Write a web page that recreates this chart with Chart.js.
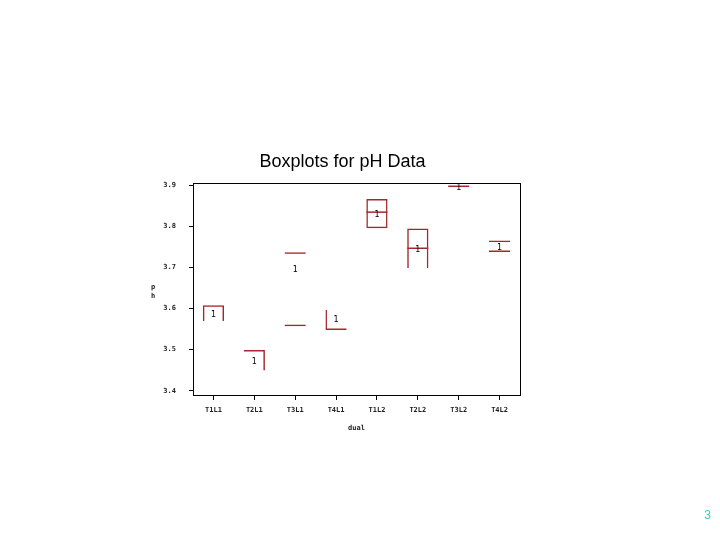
<!DOCTYPE html>
<html><head><meta charset="utf-8">
<script src="https://cdn.jsdelivr.net/npm/chart.js@4"></script>
<style>html,body{margin:0;padding:0;background:#fff}#wrap{width:720px;height:540px;position:relative}</style>
</head><body><div id="wrap"><canvas id="c" width="720" height="540"></canvas></div>
<script>
const categories = ['T1L1','T2L1','T3L1','T4L1','T1L2','T2L2','T3L2','T4L2'];
const boxLow   = [3.570, 3.449, 3.557, 3.548, 3.796, 3.699, null, 3.738];
const boxHigh  = [3.608, 3.499, 3.737, 3.597, 3.867, 3.795, null, 3.766];
const medians  = [null, null, null, null, 3.835, 3.747, 3.898, null];
const means    = [3.585, 3.470, 3.694, 3.572, 3.829, 3.742, 3.893, 3.749];
const boxSides = ['tlr','tr','tb','lb','tblr','tlr','','tb'];
const yTicks   = [3.4, 3.5, 3.6, 3.7, 3.8, 3.9];

const RED = '#a3282d';
const LW = 1.5;
const tickFont = {family: 'DejaVu Sans Mono', size: 7, weight: 'bold'};

const boxData = categories.map((c, i) => boxLow[i] == null ? null : [boxLow[i], boxHigh[i]]);

const extras = {
  id: 'extras',
  afterDatasetsDraw(chart) {
    const ctx = chart.ctx;
    const meta = chart.getDatasetMeta(2);
    ctx.save();
    ctx.fillStyle = '#000';
    ctx.font = '8px "DejaVu Sans"';
    ctx.textAlign = 'center';
    ctx.textBaseline = 'middle';
    meta.data.forEach((pt, i) => {
      if (means[i] != null) ctx.fillText('1', pt.x, pt.y);
    });
    ctx.restore();
  },
  afterDraw(chart) {
    const ctx = chart.ctx;
    const a = chart.chartArea;
    ctx.save();
    ctx.strokeStyle = '#000';
    ctx.lineWidth = 1;
    ctx.strokeRect(Math.round(a.left) + 0.5, Math.round(a.top) + 0.5, Math.round(a.right - a.left), Math.round(a.bottom - a.top));
    ctx.fillStyle = '#000';
    ctx.font = '18px "Liberation Sans"';
    ctx.textAlign = 'center';
    ctx.textBaseline = 'alphabetic';
    ctx.fillText('Boxplots for pH Data', 342.5, 167);
    ctx.font = 'bold 7px "DejaVu Sans Mono"';
    ctx.textBaseline = 'middle';
    ctx.fillStyle = '#222';
    ctx.fillText('p', 153, 287);
    ctx.fillText('h', 153, 296);
    ctx.fillStyle = '#33cccc';
    ctx.font = '12px "Liberation Sans"';
    ctx.fillText('3', 707.5, 516);
    ctx.restore();
  }
};

new Chart(document.getElementById('c'), {
  type: 'bar',
  data: {
    labels: categories,
    datasets: [
      {
        type: 'bar',
        data: boxData,
        backgroundColor: 'rgba(0,0,0,0)',
        borderColor: RED,
        borderSkipped: false,
        borderWidth: (ctx) => {
          const s = boxSides[ctx.dataIndex] || '';
          return {
            top: s.includes('t') ? LW : 0,
            bottom: s.includes('b') ? LW : 0,
            left: s.includes('l') ? LW : 0,
            right: s.includes('r') ? LW : 0
          };
        },
        barPercentage: 0.52,
        categoryPercentage: 1,
        order: 3
      },
      {
        type: 'line',
        data: medians,
        showLine: false,
        pointStyle: 'line',
        pointRadius: 10.5,
        pointHoverRadius: 10.5,
        pointBorderWidth: LW,
        pointBorderColor: RED,
        order: 2
      },
      {
        type: 'line',
        data: means,
        showLine: false,
        pointRadius: 0,
        pointHoverRadius: 0,
        order: 1
      }
    ]
  },
  options: {
    responsive: false,
    animation: false,
    devicePixelRatio: 1,
    layout: {padding: {left: 153, right: 200, top: 183, bottom: 105}},
    plugins: {legend: {display: false}, tooltip: {enabled: false}, title: {display: false}},
    scales: {
      x: {
        type: 'category',
        offset: true,
        grid: {display: true, drawOnChartArea: false, drawTicks: true, tickLength: 5, color: '#000', offset: false},
        border: {display: true, color: '#000', width: 1},
        ticks: {font: tickFont, color: '#222', padding: 6, maxRotation: 0, autoSkip: false},
        title: {display: true, text: 'dual', font: tickFont, color: '#222', padding: {top: 0, bottom: 3}},
        afterFit: (s) => { s.height = 40; }
      },
      y: {
        type: 'linear',
        min: 3.3895,
        max: 3.906,
        afterBuildTicks: (s) => { s.ticks = yTicks.map(v => ({value: v})); },
        grid: {display: true, drawOnChartArea: false, drawTicks: true, tickLength: 4, color: '#000'},
        border: {display: true, color: '#000', width: 1},
        ticks: {font: tickFont, color: '#222', padding: 13, callback: (v) => Number(v).toFixed(1)},
        afterFit: (s) => { s.width = 40; }
      }
    }
  },
  plugins: [extras]
});
</script>
</body></html>
